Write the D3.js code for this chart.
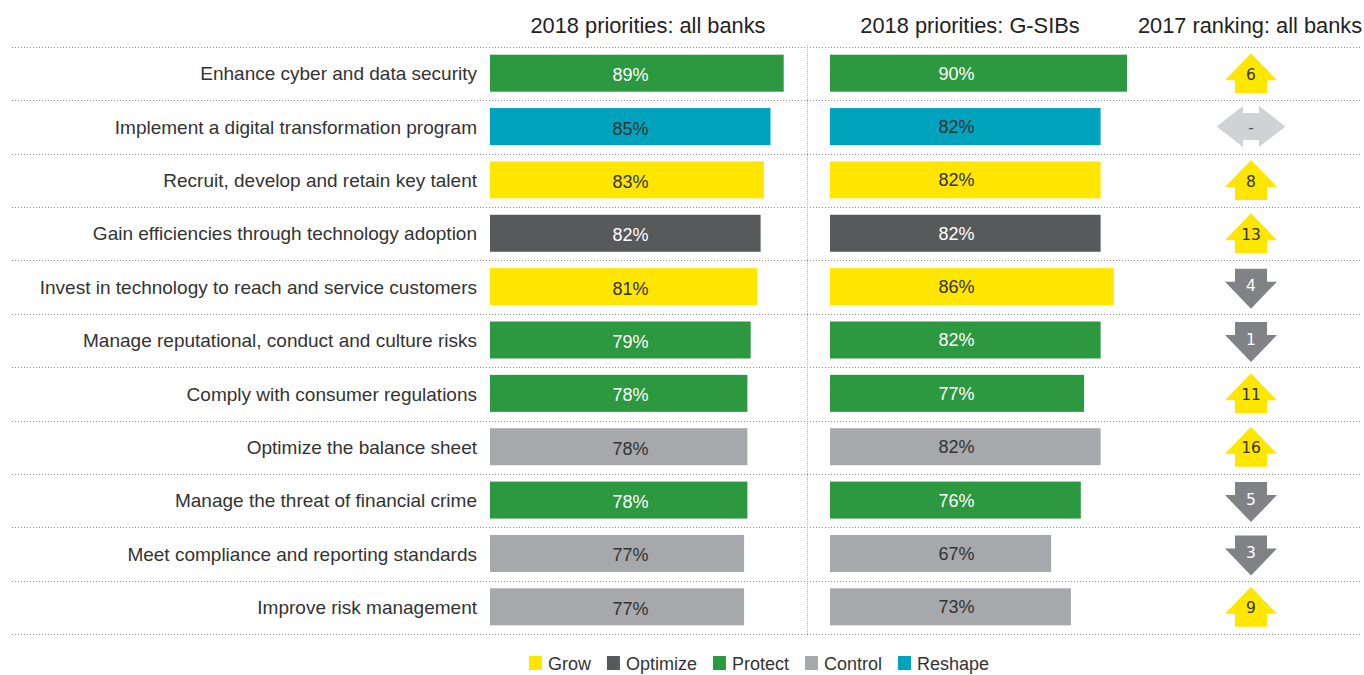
<!DOCTYPE html>
<html lang="en">
<head>
  <meta charset="UTF-8">
  <title>Bank priorities 2018</title>
  <script src="https://d3js.org/d3.v7.min.js"></script>
  <style>
    body { margin: 0; background: #fff; }
    svg { font-family: "Liberation Sans", Arial, sans-serif; }
    .grid { stroke: #8c8c8c; stroke-width: 1px; stroke-dasharray: 1,2; }
    .vgrid { stroke: #b0b0b0; stroke-width: 1px; stroke-dasharray: 1,1; }
    .cat { font-size: 19px; fill: #333; text-anchor: end; }
    .head { font-size: 21.8px; fill: #222; text-anchor: middle; }
    .val { font-size: 18px; text-anchor: middle; }
    .rank { font-family: "DejaVu Sans", Verdana, sans-serif; font-size: 15.5px; text-anchor: middle; }
    .legend text { font-size: 18px; fill: #333; }
  </style>
</head>
<body>
  <svg width="1364" height="675"></svg>
  <script>
    const categories = [
      "Enhance cyber and data security",
      "Implement a digital transformation program",
      "Recruit, develop and retain key talent",
      "Gain efficiencies through technology adoption",
      "Invest in technology to reach and service customers",
      "Manage reputational, conduct and culture risks",
      "Comply with consumer regulations",
      "Optimize the balance sheet",
      "Manage the threat of financial crime",
      "Meet compliance and reporting standards",
      "Improve risk management"
    ];
    const allBanks = [89, 85, 83, 82, 81, 79, 78, 78, 78, 77, 77];
    const gsibs    = [90, 82, 82, 82, 86, 82, 77, 82, 76, 67, 73];
    const groups   = ["Protect", "Reshape", "Grow", "Optimize", "Grow", "Protect",
                      "Protect", "Control", "Protect", "Control", "Control"];
    const rank2017 = ["6", "-", "8", "13", "4", "1", "11", "16", "5", "3", "9"];
    const moves    = ["up", "new", "up", "up", "down", "down", "up", "up", "down", "down", "up"];

    const headers = ["2018 priorities: all banks", "2018 priorities: G-SIBs", "2017 ranking: all banks"];
    const legendKeys = ["Grow", "Optimize", "Protect", "Control", "Reshape"];

    const colors = {
      Grow: "#ffe600", Optimize: "#58595b", Protect: "#2c983f",
      Control: "#a7a8ab", Reshape: "#00a3be"
    };
    const labelColor = {
      Grow: "#333", Optimize: "#fff", Protect: "#fff", Control: "#333", Reshape: "#333"
    };

    const svg = d3.select("svg");

    const y = d3.scaleBand().domain(categories).range([47, 634]);
    const x1 = d3.scaleLinear().domain([0, 100]).range([490, 820]);
    const x2 = d3.scaleLinear().domain([0, 100]).range([830, 1160]);
    const rankX = 1251;
    const barH = 37;

    const rows = categories.map((c, i) => ({
      name: c, a: allBanks[i], g: gsibs[i], group: groups[i], rank: rank2017[i], move: moves[i]
    }));

    // headers
    svg.selectAll(".head")
      .data(headers)
      .join("text")
        .attr("class", "head")
        .attr("x", (d, i) => [648, 970, 1250][i])
        .attr("y", 33)
        .text(d => d);

    // dotted row lines
    const lineYs = categories.map(c => y(c)).concat([y.range()[1]]);
    svg.selectAll(".grid")
      .data(lineYs)
      .join("line")
        .attr("class", "grid")
        .attr("x1", 12).attr("x2", 1362)
        .attr("y1", d => Math.round(d) + 0.5)
        .attr("y2", d => Math.round(d) + 0.5);

    svg.append("line")
      .attr("class", "vgrid")
      .attr("x1", 807.5).attr("x2", 807.5)
      .attr("y1", 45).attr("y2", 634);

    const rowC = d => y(d.name) + y.bandwidth() / 2 - 0.5;

    // category labels
    svg.selectAll(".cat")
      .data(rows)
      .join("text")
        .attr("class", "cat")
        .attr("x", 477)
        .attr("y", rowC)
        .attr("dy", "0.38em")
        .text(d => d.name);

    // bars, both columns
    const cols = [
      { key: "a", x: x1, labelX: 630.5, dy: 1.5 },
      { key: "g", x: x2, labelX: 956.5, dy: 0 }
    ];
    cols.forEach(col => {
      const g = svg.append("g");
      g.selectAll("rect")
        .data(rows)
        .join("rect")
          .attr("x", col.x(0))
          .attr("y", d => rowC(d) - barH / 2)
          .attr("width", d => col.x(d[col.key]) - col.x(0))
          .attr("height", barH)
          .attr("fill", d => colors[d.group]);
      g.selectAll("text")
        .data(rows)
        .join("text")
          .attr("class", "val")
          .attr("x", col.labelX)
          .attr("y", d => rowC(d) + col.dy)
          .attr("dy", "0.36em")
          .attr("fill", d => labelColor[d.group])
          .text(d => d[col.key] + "%");
    });

    // 2017 ranking arrows
    const upPts = [[0, -20], [26, 7], [16, 7], [16, 20], [-16, 20], [-16, 7], [-26, 7]];
    const downPts = upPts.map(p => [p[0], -p[1] + 2]);
    const bothPts = [[-34.5, 0], [-8, -20.5], [-8, -13.5], [8, -13.5], [8, -20.5], [34.5, 0],
                     [8, 20.5], [8, 13.5], [-8, 13.5], [-8, 20.5]];
    const shape = { up: upPts, down: downPts, new: bothPts };
    const arrowFill = { up: "#ffe600", down: "#808285", new: "#d1d2d4" };
    const arrowText = { up: "#333", down: "#fff", new: "#555" };

    const arrows = svg.selectAll(".arrow")
      .data(rows)
      .join("g")
        .attr("class", "arrow")
        .attr("transform", d => `translate(${rankX},${rowC(d)})`);
    arrows.append("path")
      .attr("d", d => d3.line()(shape[d.move]) + "Z")
      .attr("fill", d => arrowFill[d.move]);
    arrows.append("text")
      .attr("class", "rank")
      .attr("y", d => d.move === "down" ? -1 : 1)
      .attr("dy", "0.36em")
      .attr("fill", d => arrowText[d.move])
      .text(d => d.rank);

    // legend
    const legend = svg.append("g").attr("class", "legend");
    const items = legend.selectAll("g")
      .data(legendKeys)
      .join("g");
    items.append("rect")
      .attr("width", 13).attr("height", 14)
      .attr("y", 656)
      .attr("fill", d => colors[d]);
    items.append("text")
      .attr("x", 19)
      .attr("y", 670)
      .text(d => d);
    let cx = 0;
    items.each(function () {
      const w = d3.select(this).select("text").node().getComputedTextLength();
      d3.select(this).attr("transform", `translate(${cx},0)`);
      cx += 19 + w + 16;
    });
    const total = cx - 16;
    legend.attr("transform", `translate(${759 - total / 2},0)`);
  </script>
</body>
</html>
